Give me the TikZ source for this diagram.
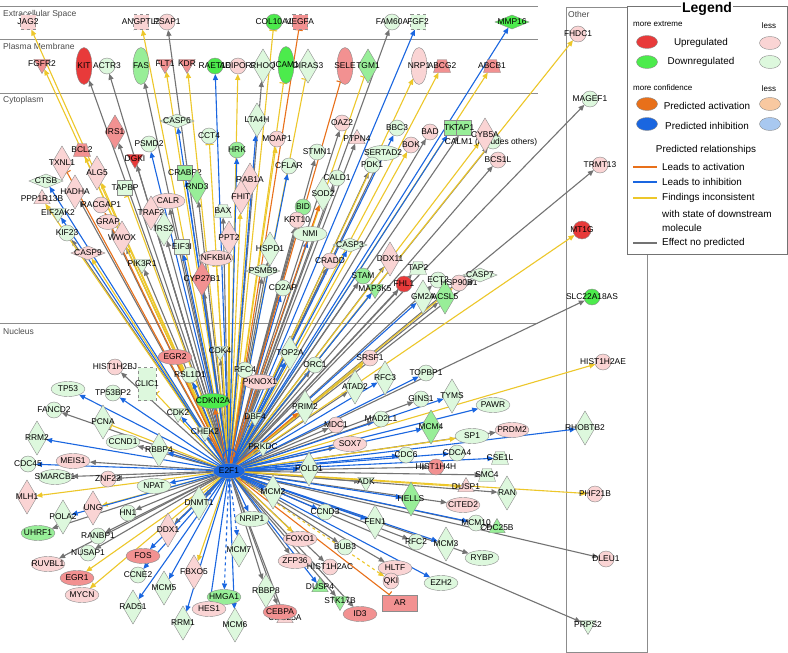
\documentclass[tikz,border=0pt]{standalone}
\usepackage{fontspec}
\setmainfont{Liberation Sans}
\usetikzlibrary{shapes.geometric,arrows.meta,backgrounds}

\definecolor{cUpS}{HTML}{E83A3A}
\definecolor{cUpM}{HTML}{F29191}
\definecolor{cUpL}{HTML}{FAD4D4}
\definecolor{cDnS}{HTML}{4CEB4C}
\definecolor{cDnM}{HTML}{98EE98}
\definecolor{cDnL}{HTML}{DDF8DD}
\definecolor{cAct}{HTML}{E8701A}
\definecolor{cInh}{HTML}{1A66E0}
\definecolor{cInc}{HTML}{EDC72A}
\definecolor{cNop}{HTML}{737373}
\definecolor{cActL}{HTML}{F8C8A0}
\definecolor{cInhL}{HTML}{A8C8F0}

\tikzset{
  shp/.style={draw=black!45, line width=0.4pt, inner sep=0pt, outer sep=0pt},
  circ/.style={shp, circle, minimum size=16pt},
  ell/.style={shp, ellipse, minimum width=34pt, minimum height=15pt},
  vell/.style={shp, ellipse, minimum width=16pt, minimum height=37pt},
  dia/.style={shp, diamond, minimum width=20pt, minimum height=34pt},
  hdia/.style={shp, diamond, minimum width=34pt, minimum height=14pt},
  tri/.style={shp, regular polygon, regular polygon sides=3, minimum size=19pt},
  itri/.style={tri, shape border rotate=180},
  trap/.style={shp, trapezium, inner sep=2pt, trapezium left angle=65, trapezium right angle=65,
    minimum width=17pt, minimum height=13pt, trapezium stretches=true},
  sqr/.style={shp, rectangle, minimum size=15pt},
  dsqr/.style={sqr, dashed},
  upS/.style={fill=cUpS}, upM/.style={fill=cUpM}, upL/.style={fill=cUpL},
  dnS/.style={fill=cDnS}, dnM/.style={fill=cDnM}, dnL/.style={fill=cDnL},
  genetxt/.style={inner sep=0pt, font=\fontsize{8.4}{9}\selectfont},
  secname/.style={anchor=west, inner sep=0pt, text=black!70, font=\fontsize{8.5}{9}\selectfont},
  legtxt/.style={inner sep=0pt, font=\fontsize{9.9}{11}\selectfont},
  legsmall/.style={inner sep=0pt, font=\fontsize{8}{9}\selectfont},
  secline/.style={draw=black!45, line width=0.8pt},
  lnk/.style={line width=1.1pt},
  nop/.style={lnk, draw=cNop, -{Triangle[length=6pt,width=5pt]}},
  inh/.style={lnk, draw=cInh, -{Triangle[length=6pt,width=5pt]}},
  inc/.style={lnk, draw=cInc, -{Triangle[length=6pt,width=5pt]}},
  act/.style={lnk, draw=cAct, -{Triangle[length=6pt,width=5pt]}},
  incbar/.style={lnk, draw=cInc, -{Bar[width=8pt]}},
  actbar/.style={lnk, draw=cAct, -{Bar[width=8pt]}},
}

% gene: name, x, y, shape and colour
\newcommand{\gene}[4]{\node[#4] (#1) at (#2,#3) {};
  \node[genetxt] (#1-t) at (#1) {#1};}

\begin{document}
\begin{tikzpicture}[x=1pt,y=-1pt]
\useasboundingbox (0,0) rectangle (788,653);

% extracellular space
\gene{JAG2}{28}{22}{dsqr,upL}
\gene{ANGPTL2}{141}{22}{dsqr,upL}
\gene{PSAP1}{167}{22}{circ,upL}
\gene{COL10A1}{274}{22}{circ,dnS}
\gene{VEGFA}{300}{22}{dsqr,upM}
\gene{FAM60A}{392}{22}{circ,dnL}
\gene{FGF2}{418}{22}{dsqr,dnL}
\gene{MMP16}{512}{22}{hdia,dnS}
% plasma membrane
\gene{FGFR2}{42}{64}{itri,upM}
\gene{KIT}{84}{66}{vell,upS}
\gene{ACTR3}{107}{66}{circ,dnL}
\gene{FAS}{141}{66}{vell,dnM}
\gene{FLT1}{165}{64}{itri,upM}
\gene{KDR}{187}{64}{itri,upM}
\gene{RAET1E}{215}{66}{circ,dnS}
\gene{ADIPOR2}{238}{66}{circ,upL}
\gene{RHOQ}{263}{66}{dia,dnL}
\gene{ICAM1}{286}{65}{vell,dnS}
\gene{DIRAS3}{308}{66}{dia,dnL}
\gene{SELE}{345}{66}{vell,upM}
\gene{TGM1}{368}{66}{dia,dnM}
\gene{NRP1}{419}{66}{vell,upL}
\gene{ABCG2}{442}{66}{trap,upM}
\gene{ABCB1}{492}{66}{trap,upM}
% cytoplasm
\gene{CASP6}{177}{121}{hdia,dnL}
\gene{LTA4H}{257}{120}{dia,dnL}
\gene{CCT4}{209}{136}{circ,dnL}
\gene{IRS1}{115}{132}{dia,upM}
\gene{PSMD2}{149}{144}{circ,dnL}
\gene{BCL2}{82}{150}{trap,upM}
\gene{TXNL1}{62}{163}{dia,upL}
\gene{DGKI}{135}{159}{itri,upS}
\gene{HRK}{237}{150}{circ,dnM}
\gene{MOAP1}{277}{139}{circ,upL}
\gene{STMN1}{317}{152}{circ,dnL}
\gene{CFLAR}{289}{166}{circ,dnL}
\gene{OAZ2}{342}{123}{circ,upL}
\gene{PTPN4}{357}{139}{tri,upL}
\gene{BBC3}{397}{128}{circ,dnL}
\gene{SERTAD2}{383}{153}{ell,dnL}
\gene{BOK}{411}{145}{circ,upL}
\gene{BAD}{430}{132}{circ,upL}
\gene{TKT}{452}{128}{sqr,dnM}
\gene{TAP1}{464}{128}{sqr,dnM}
\node[circ,dnL] (CALM1) at (493,141) {};
\node[genetxt] (CALM1-t) at (491,142) {CALM1 (includes others)};
\gene{CYB5A}{485}{135}{dia,upL}
\gene{PDK1}{372}{165}{circ,dnL}
\gene{BCS1L}{498}{160}{circ,upL}
\gene{CTSB}{46}{181}{hdia,dnL}
\gene{RACGAP1}{101}{205}{circ,upL}
\gene{HADHA}{75}{192}{dia,upL}
\gene{ALG5}{97}{173}{dia,upL}
\gene{PPP1R13B}{42}{199}{tri,upL}
\gene{TAPBP}{125}{188}{sqr,dnL}
\gene{CALR}{168}{201}{ell,upL}
\gene{CRABP2}{185}{173}{sqr,dnM}
\gene{RND3}{197}{187}{dia,dnM}
\gene{RAB1A}{250}{180}{dia,upL}
\gene{FHIT}{241}{197}{dia,upL}
\gene{TRAF2}{151}{213}{dia,upL}
\gene{BAX}{223}{211}{trap,dnL}
\gene{GRAP}{108}{222}{ell,upL,minimum width=22pt}
\gene{IRS2}{164}{229}{dia,dnL}
\gene{EIF2AK2}{58}{213}{itri,dnL}
\gene{WWOX}{122}{238}{dia,upL}
\gene{KIF23}{67}{233}{circ,dnL}
\gene{EIF3I}{182}{247}{sqr,dnL}
\gene{PPT2}{229}{238}{dia,upL}
\gene{HSPD1}{270}{249}{dia,dnL}
\gene{CASP9}{88}{253}{hdia,upL}
\gene{NFKBIA}{216}{258}{ell,upL}
\gene{PIK3R1}{142}{264}{itri,dnL}
\gene{CYP27B1}{202}{279}{dia,upM}
\gene{PSMB9}{263}{271}{hdia,dnL}
\gene{CD2AP}{283}{288}{circ,dnL}
\gene{CALD1}{337}{178}{circ,dnL}
\gene{SOD2}{323}{194}{dia,dnL}
\gene{BID}{303}{207}{circ,dnM}
\gene{KRT10}{297}{220}{circ,upL}
\gene{NMI}{310}{234}{ell,dnL}
\gene{CASP3}{350}{245}{hdia,dnL}
\gene{CRADD}{330}{261}{circ,upL}
\gene{DDX11}{390}{259}{dia,upL}
\gene{STAM}{363}{276}{circ,dnM}
\gene{TAP2}{418}{268}{trap,dnL}
\gene{FHL1}{404}{284}{circ,upS}
\gene{ECT2}{438}{280}{circ,dnL}
\gene{MAP3K5}{375}{289}{itri,dnM}
\gene{GM2A}{423}{297}{dia,dnL}
\gene{ACSL5}{445}{297}{dia,dnM}
\gene{HSP90B1}{459}{283}{circ,upL}
\gene{CASP7}{480}{275}{hdia,dnL}
% nucleus
\gene{EGR2}{175}{357}{ell,upM}
\gene{CDK4}{220}{351}{itri,dnL}
\gene{HIST1H2BJ}{115}{367}{circ,upL}
\gene{CLIC1}{147}{384}{shp,rectangle,dashed,dnL,minimum width=18pt,minimum height=33pt}
\gene{RSL1D1}{190}{375}{circ,dnL}
\gene{RFC4}{245}{370}{circ,dnL}
\gene{PKNOX1}{260}{382}{ell,upL}
\gene{TP53}{68}{389}{ell,dnL}
\gene{TP53BP2}{113}{393}{circ,dnL}
\gene{CDKN2A}{213}{401}{ell,dnS}
\gene{FANCD2}{54}{410}{circ,dnL}
\gene{PCNA}{103}{422}{dia,dnL}
\gene{CDK2}{178}{413}{itri,dnL}
\gene{DBF4}{255}{417}{itri,dnL}
\gene{CHEK2}{205}{432}{itri,dnL}
\gene{CCND1}{123}{442}{ell,dnL}
\gene{RBBP4}{159}{450}{dia,dnL}
\gene{RRM2}{37}{438}{dia,dnL}
\gene{PRKDC}{263}{447}{itri,dnL}
\gene{MEIS1}{73}{461}{ell,upL}
\gene{CDC45}{28}{464}{circ,dnL}
\gene{SMARCB1}{55}{477}{ell,dnL}
\gene{ZNF22}{108}{479}{circ,upL}
\gene{NPAT}{154}{486}{ell,dnL}
\gene{MLH1}{27}{497}{dia,upL}
\gene{PRIM2}{305}{407}{dia,dnL}
\gene{MDC1}{336}{425}{circ,upL}
\gene{SOX7}{350}{444}{ell,upL}
\gene{POLD1}{309}{469}{dia,dnL}
\gene{MCM2}{273}{492}{dia,dnL}
\gene{TOP2A}{290}{353}{dia,dnL}
\gene{ORC1}{315}{365}{circ,dnL}
\gene{SRSF1}{370}{358}{circ,upL}
\gene{RFC3}{385}{378}{dia,dnL}
\gene{TOPBP1}{426}{373}{circ,dnL}
\gene{ATAD2}{355}{387}{dia,dnL}
\gene{GINS1}{421}{399}{circ,dnL}
\gene{TYMS}{452}{396}{dia,dnL}
\gene{PAWR}{493}{405}{ell,dnL}
\gene{MAD2L1}{381}{419}{circ,dnL}
\gene{MCM4}{431}{427}{dia,dnM}
\gene{SP1}{472}{436}{ell,dnL}
\gene{PRDM2}{512}{430}{ell,upL}
\gene{CDC6}{406}{455}{circ,dnL}
\gene{CDCA4}{457}{453}{circ,dnL}
\gene{HIST1H4H}{436}{467}{circ,upM}
\gene{CSE1L}{500}{458}{trap,dnL}
\gene{SMC4}{487}{475}{trap,dnL}
\gene{ADK}{366}{482}{itri,dnL}
\gene{DUSP1}{466}{487}{tri,upL}
\gene{RAN}{507}{493}{dia,dnL}
\gene{HELLS}{411}{499}{dia,dnM}
\gene{CITED2}{463}{505}{ell,upL}
\gene{CCND3}{325}{512}{circ,dnL}
\gene{FEN1}{375}{522}{dia,dnL}
\gene{MCM10}{476}{523}{circ,dnL}
\gene{CDC25B}{497}{528}{tri,dnM}
\gene{FOXO1}{300}{539}{ell,upL}
\gene{BUB3}{345}{547}{circ,dnL}
\gene{RFC2}{416}{542}{circ,dnL}
\gene{MCM3}{446}{544}{dia,dnL}
\gene{RYBP}{482}{558}{ell,dnL}
\gene{ZFP36}{295}{561}{ell,upL}
\gene{HIST1H2AC}{330}{567}{circ,upL}
\gene{HLTF}{395}{568}{ell,upL}
\gene{QKI}{391}{581}{circ,upL}
\gene{EZH2}{441}{583}{ell,dnL}
\gene{DUSP4}{320}{587}{tri,dnM}
\gene{AR}{400}{603}{shp,rectangle,upM,minimum width=35pt,minimum height=16pt}
\gene{STK17B}{340}{601}{itri,dnM}
\gene{ID3}{360}{614}{ell,upM}
\gene{RBBP8}{266}{591}{dia,dnL}
\gene{CDC25A}{285}{618}{tri,upL}
\gene{CEBPA}{280}{612}{ell,upM}
\gene{UNG}{93}{508}{dia,upL}
\gene{POLA2}{63}{517}{dia,dnL}
\gene{HN1}{128}{513}{circ,dnL}
\gene{DNMT1}{199}{503}{dia,dnL}
\gene{NRIP1}{252}{519}{ell,dnL}
\gene{UHRF1}{38}{533}{ell,dnM}
\gene{RANBP1}{98}{536}{circ,dnL}
\gene{DDX1}{168}{530}{dia,upL}
\gene{NUSAP1}{88}{553}{circ,dnL}
\gene{FOS}{143}{556}{ell,upM}
\gene{MCM7}{239}{550}{dia,dnL}
\gene{RUVBL1}{48}{564}{ell,upL}
\gene{CCNE2}{138}{575}{circ,dnL}
\gene{EGR1}{77}{578}{ell,upM}
\gene{FBXO5}{194}{572}{dia,upL}
\gene{MCM5}{164}{588}{dia,dnL}
\gene{MYCN}{82}{595}{ell,upL}
\gene{HMGA1}{224}{597}{ell,dnM}
\gene{RAD51}{133}{607}{dia,dnL}
\gene{HES1}{209}{609}{ell,upL}
\gene{RRM1}{183}{623}{dia,dnL}
\gene{MCM6}{235}{625}{dia,dnL}
% other
\gene{FHDC1}{578}{34}{circ,upL}
\gene{MAGEF1}{590}{99}{circ,dnL}
\gene{TRMT13}{600}{165}{circ,upL}
\gene{MT1G}{582}{230}{circ,upS,minimum size=18pt}
\gene{SLC22A18AS}{592}{297}{circ,dnS}
\gene{HIST1H2AE}{603}{362}{circ,upL}
\gene{RHOBTB2}{585}{428}{dia,dnL}
\gene{PHF21B}{595}{494}{circ,upL}
\gene{DLEU1}{606}{559}{circ,upL}
\gene{PRPS2}{588}{625}{itri,dnL}

\node[shp, ellipse, fill=cInh, minimum width=32pt, minimum height=15pt] (E2F1) at (229,471) {};
\node[genetxt] (E2F1-t) at (E2F1) {E2F1};

\begin{pgfonlayer}{background}
  \fill[white] (0,0) rectangle (788,653);
  \draw[secline] (0,6) -- (538,6);
  \draw[secline] (0,39) -- (538,39);
  \draw[secline] (0,93) -- (538,93);
  \draw[secline] (0,323) -- (538,323);
  \draw[secline] (566,7) rectangle (647,652);
  \node[secname] (sec-ext) at (3,14) {Extracellular Space};
  \node[secname] (sec-pm) at (3,46) {Plasma Membrane};
  \node[secname] (sec-cyt) at (3,100) {Cytoplasm};
  \node[secname] (sec-nuc) at (3,331) {Nucleus};
  \node[secname] (sec-oth) at (568,14) {Other};

  % links from E2F1
  \foreach \t in {PSAP1, FAM60A, KIT, ACTR3, FAS, RHOQ, MAGEF1, TRMT13,
      SLC22A18AS, DLEU1, PRPS2, IRS1, DGKI, STMN1, OAZ2, PTPN4, SERTAD2,
      BAD, TAP1, CALM1, BCS1L, PDK1, HADHA, CALR, RND3, TRAF2, BAX, GRAP,
      IRS2, WWOX, KIF23, HSPD1, PIK3R1, CYP27B1, PSMB9, CALD1, BID, KRT10,
      CRADD, DDX11, STAM, TAP2, FHL1, ECT2, ACSL5, CASP7, CDK4, HIST1H2BJ,
      RFC4, PKNOX1, FANCD2, DBF4, CHEK2, CCND1, PRKDC, MEIS1, SMARCB1,
      ZNF22, MDC1, SOX7, ORC1, ATAD2, GINS1, MAD2L1, PRDM2, HIST1H4H, SMC4,
      ADK, RAN, CITED2, CDC25B, BUB3, RFC2, RYBP, ZFP36, HIST1H2AC, HLTF,
      STK17B, ID3, RBBP8, CEBPA, CDC25A, HN1, DNMT1, UHRF1, RANBP1, DDX1,
      NUSAP1, RUVBL1}
    \draw[nop] (E2F1) -- (\t);
  \foreach \t in {JAG2, FGFR2, ANGPTL2, FLT1, KDR, ADIPOR2, NRP1, ABCG2,
      ABCB1, FHDC1, MT1G, HIST1H2AE, PHF21B, BCL2, MOAP1, BOK, CYB5A, ALG5,
      PPP1R13B, RAB1A, FHIT, PPT2, CASP9, HSP90B1, EGR2, MLH1, SRSF1, SP1,
      DUSP1, FOXO1, UNG, EGR1, FBXO5, MYCN}
    \draw[inc] (E2F1) -- (\t);
  \draw[inc, dashed] (E2F1) -- (QKI);
  \foreach \t in {COL10A1, ICAM1, DIRAS3, TGM1, CCT4, TAPBP, NFKBIA, CLIC1, PCNA}
    \draw[incbar] (E2F1) -- (\t);
  \foreach \t in {FGF2, MMP16, RAET1E, RHOBTB2, CASP6, LTA4H, PSMD2, HRK,
      CFLAR, BBC3, TKT, CTSB, CRABP2, EIF2AK2, EIF3I, CD2AP, NMI, CASP3,
      MAP3K5, GM2A, RSL1D1, TP53, TP53BP2, CDK2, RBBP4, RRM2, CDC45, NPAT,
      POLD1, MCM2, TOP2A, RFC3, TOPBP1, TYMS, PAWR, MCM4, CDC6, CDCA4, CSE1L,
      HELLS, CCND3, FEN1, MCM10, MCM3, EZH2, DUSP4, POLA2, NRIP1, FOS, CCNE2,
      MCM5, RAD51, HES1, RRM1, MCM6}
    \draw[inh] (E2F1) -- (\t);
  \foreach \t in {MCM7, HMGA1}
    \draw[inh, dashed] (E2F1) -- (\t);
  \foreach \t in {CDKN2A, PRIM2, SOD2, RACGAP1}
    \draw[act] (E2F1) -- (\t);
  \foreach \t in {VEGFA, SELE, TXNL1, AR}
    \draw[actbar] (E2F1) -- (\t);
  \draw[inh] (E2F1.120) .. controls (216,446) and (242,446) .. (E2F1.60);
\end{pgfonlayer}

% legend
\node[draw=black!55, fill=white, line width=0.6pt, minimum width=160pt,
  minimum height=248pt, anchor=north west, inner sep=0pt] (legbox) at (627,6) {};
\node[fill=white, inner sep=1.5pt, font=\bfseries\fontsize{14}{15}\selectfont] (legtitle) at (707,8.5) {Legend};
\node[legsmall, anchor=west] (leg-ext) at (633,24) {more extreme};
\node[legsmall] (leg-less1) at (769,26) {less};
\node[shp, ellipse, fill=cUpS, minimum width=21pt, minimum height=13pt] (leg-up) at (647,42) {};
\node[shp, ellipse, fill=cUpL, minimum width=21pt, minimum height=13pt] (leg-upl) at (770,43) {};
\node[legtxt] (leg-up-t) at (701,43) {Upregulated};
\node[shp, ellipse, fill=cDnS, minimum width=21pt, minimum height=13pt] (leg-dn) at (647,62) {};
\node[shp, ellipse, fill=cDnL, minimum width=21pt, minimum height=13pt] (leg-dnl) at (770,62) {};
\node[legtxt] (leg-dn-t) at (701,62) {Downregulated};
\node[legsmall, anchor=west] (leg-conf) at (633,88) {more confidence};
\node[legsmall] (leg-less2) at (769,89) {less};
\node[shp, ellipse, fill=cAct, minimum width=21pt, minimum height=13pt] (leg-act) at (647,104) {};
\node[shp, ellipse, fill=cActL, minimum width=21pt, minimum height=13pt] (leg-actl) at (770,104) {};
\node[legtxt] (leg-act-t) at (707,106) {Predicted activation};
\node[shp, ellipse, fill=cInh, minimum width=21pt, minimum height=13pt] (leg-inh) at (647,124) {};
\node[shp, ellipse, fill=cInhL, minimum width=21pt, minimum height=13pt] (leg-inhl) at (770,124) {};
\node[legtxt] (leg-inh-t) at (707,126) {Predicted inhibition};
\node[legtxt] (leg-rel) at (706,150) {Predicted relationships};
\draw[cAct, line width=2pt] (633,167) -- (657,167);
\node[legtxt, anchor=west] (leg-r1) at (662,167) {Leads to activation};
\draw[cInh, line width=2pt] (633,182) -- (657,182);
\node[legtxt, anchor=west] (leg-r2) at (662,182) {Leads to inhibition};
\draw[cInc, line width=2pt] (633,198) -- (657,198);
\node[legtxt, anchor=west] (leg-r3) at (662,198) {Findings inconsistent};
\node[legtxt, anchor=west] (leg-r3b) at (662,214) {with state of downstream};
\node[legtxt, anchor=west] (leg-r3c) at (662,228) {molecule};
\draw[cNop, line width=2pt] (633,243) -- (657,243);
\node[legtxt, anchor=west] (leg-r4) at (662,243) {Effect no predicted};
\end{tikzpicture}
\end{document}
